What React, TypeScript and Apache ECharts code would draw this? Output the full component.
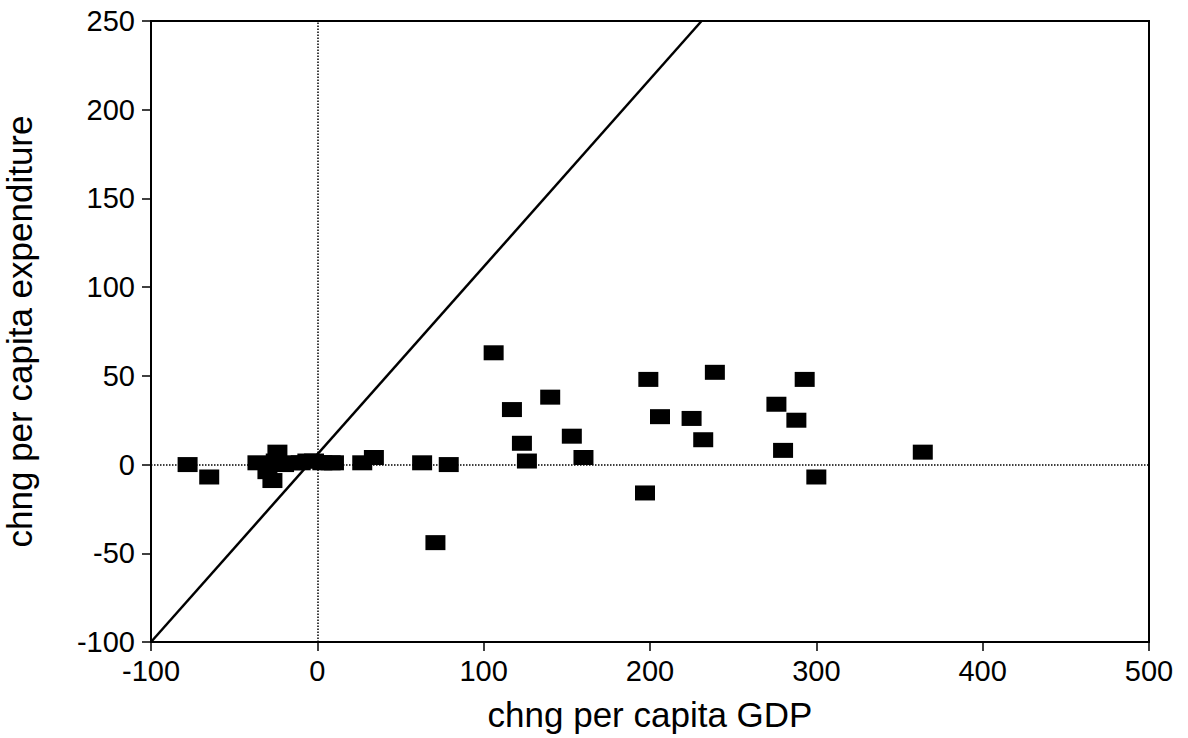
import React, { useEffect, useRef } from "react";
import * as echarts from "echarts";

const gdpChange: number[] = [
  -78, -65, -36, -30, -27, -24, -25, -20, -15, -10, -6, -2, 3, 8, 10,
  27, 34, 63, 79, 71, 106, 117, 123, 126, 140, 153, 160, 197, 199, 206,
  225, 232, 239, 276, 280, 288, 293, 300, 364,
];
const expChange: number[] = [
  0, -7, 1, -4, -9, 7, 2, 0, 1, 1, 2, 2, 1, 1, 1,
  1, 4, 1, 0, -44, 63, 31, 12, 2, 38, 16, 4, -16, 48, 27,
  26, 14, 52, 34, 8, 25, 48, -7, 7,
];
const diagonalX: number[] = [-100, 231];
const diagonalY: number[] = [-100, 250];

const xTicks = { min: -100, max: 500, interval: 100 };
const yTicks = { min: -100, max: 250, interval: 50 };

const FONT = "'Liberation Sans', Arial, Helvetica, sans-serif";

export default function App() {
  const ref = useRef<HTMLDivElement>(null);
  useEffect(() => {
    if (!ref.current) return;
    const chart = echarts.init(ref.current, null, { renderer: "svg" });
    const points = gdpChange.map((x, i) => [x, expChange[i]]);
    const diag = diagonalX.map((x, i) => [x, diagonalY[i]]);
    chart.setOption({
      animation: false,
      backgroundColor: "#ffffff",
      textStyle: { fontFamily: FONT, color: "#000" },
      grid: {
        left: 151,
        right: 39,
        top: 21,
        bottom: 96,
        containLabel: false,
        outerBoundsMode: "none",
        show: true,
        borderColor: "#000",
        borderWidth: 2,
        backgroundColor: "transparent",
      },
      xAxis: {
        type: "value",
        min: xTicks.min,
        max: xTicks.max,
        interval: xTicks.interval,
        name: "chng per capita GDP",
        nameLocation: "middle",
        nameGap: 55,
        nameTextStyle: { fontFamily: FONT, fontSize: 35, color: "#000" },
        axisLine: { show: true, onZero: false, lineStyle: { color: "#000", width: 2 } },
        axisTick: { show: true, inside: false, length: 9, lineStyle: { color: "#000", width: 1.5 } },
        axisLabel: { fontFamily: FONT, fontSize: 29, color: "#000", margin: 14 },
        splitLine: { show: false },
      },
      yAxis: {
        type: "value",
        min: yTicks.min,
        max: yTicks.max,
        interval: yTicks.interval,
        name: "chng per capita expenditure",
        nameLocation: "middle",
        nameGap: 114,
        nameTextStyle: { fontFamily: FONT, fontSize: 35, color: "#000" },
        axisLine: { show: true, onZero: false, lineStyle: { color: "#000", width: 2 } },
        axisTick: { show: true, inside: false, length: 9, lineStyle: { color: "#000", width: 1.5 } },
        axisLabel: { fontFamily: FONT, fontSize: 29, color: "#000", margin: 16 },
        splitLine: { show: false },
      },
      series: [
        {
          type: "line",
          data: diag,
          showSymbol: false,
          symbol: "none",
          lineStyle: { color: "#000", width: 2.5 },
          silent: true,
          z: 3,
          markLine: {
            silent: true,
            symbol: "none",
            label: { show: false },
            lineStyle: { color: "#000", width: 1.5, type: "dotted" },
            data: [{ xAxis: 0 }, { yAxis: 0 }],
          },
        },
        {
          type: "scatter",
          data: points,
          symbol: "rect",
          symbolSize: [20, 15],
          itemStyle: { color: "#000", opacity: 1 },
          z: 4,
        },
      ],
    });
    return () => chart.dispose();
  }, []);
  return (
    <div
      ref={ref}
      style={{ position: "fixed", left: 0, top: 0, width: 1188, height: 738, background: "#fff" }}
    />
  );
}
